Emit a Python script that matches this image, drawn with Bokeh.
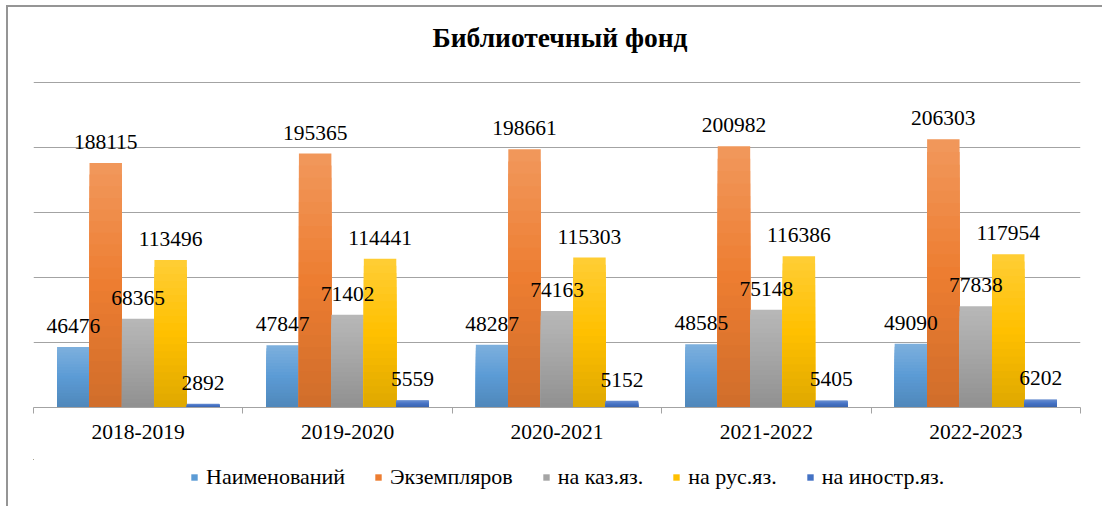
from bokeh.plotting import figure
from bokeh.layouts import column
from bokeh.models import Range1d, LinearAxis, FixedTicker, Grid, Legend, LegendItem, Label
from bokeh.embed import file_html
from bokeh.resources import INLINE
from bokeh.core.properties import value

# ---- data ----
years = ["2018-2019", "2019-2020", "2020-2021", "2021-2022", "2022-2023"]
naimenovaniy = [46476, 47847, 48287, 48585, 49090]
ekzemplyarov = [188115, 195365, 198661, 200982, 206303]
na_kaz = [68365, 71402, 74163, 75148, 77838]
na_rus = [113496, 114441, 115303, 116386, 117954]
na_inostr = [2892, 5559, 5152, 5405, 6202]
series_names = ["Наименований", "Экземпляров", "на каз.яз.", "на рус.яз.", "на иностр.яз."]
y_ticks = [0, 50000, 100000, 150000, 200000, 250000]
title_text = "Библиотечный фонд"

series = [naimenovaniy, ekzemplyarov, na_kaz, na_rus, na_inostr]
colors = ["#5b9bd5", "#ed7d31", "#a5a5a5", "#ffc000", "#4472c4"]

FONT = value("Liberation Serif")
GRID = "#a3a3a3"


def hex2rgb(h):
    h = h.lstrip("#")
    return [int(h[i:i + 2], 16) for i in (0, 2, 4)]


def rgb2hex(c):
    return "#%02x%02x%02x" % tuple(max(0, min(255, int(round(v)))) for v in c)


def mix(a, b, t):
    a, b = hex2rgb(a), hex2rgb(b)
    return rgb2hex([a[i] + (b[i] - a[i]) * t for i in range(3)])


def grad(base, t):
    # t=0 top (lighter), 0.5 base, 1 bottom (darker)
    top = mix(base, "#ffffff", 0.2)
    bot = mix(base, "#000000", 0.12)
    if t < 0.5:
        return mix(top, base, t / 0.5)
    return mix(base, bot, (t - 0.5) / 0.5)


n_cat = len(years)
n_ser = len(series)
bar_w = 0.155
frame_w = 1047
frame_h = 326  # pixels, one extra so the top grid line is not clipped


def bar_x(j):
    return [i + 0.5 + (j - (n_ser - 1) / 2) * bar_w for i in range(n_cat)]


def bare(fig):
    fig.outline_line_color = None
    fig.background_fill_color = None
    fig.border_fill_color = None
    fig.xgrid.grid_line_color = None
    fig.ygrid.grid_line_color = None


# ---- title strip ----
t = figure(frame_width=frame_w, frame_height=74, output_backend="svg", toolbar_location=None,
           x_range=Range1d(0, n_cat), y_range=Range1d(0, 74),
           x_axis_location=None, y_axis_location=None,
           min_border_left=25, min_border_right=22, min_border_top=0, min_border_bottom=0)
bare(t)
t.add_layout(Label(x=n_cat / 2, y=44, x_offset=3, text=title_text,
                   text_align="center", text_baseline="middle",
                   text_font="Liberation Serif", text_font_style="bold",
                   text_font_size="27.5px", text_color="#000000"))

# ---- main chart ----
p = figure(frame_width=frame_w, frame_height=frame_h, output_backend="svg", toolbar_location=None,
           x_range=Range1d(0, n_cat),
           y_range=Range1d(y_ticks[0], y_ticks[-1] * frame_h / (frame_h - 1)),
           x_axis_location=None, y_axis_location=None,
           min_border_left=25, min_border_right=22, min_border_top=0, min_border_bottom=52)
bare(p)

p.add_layout(Grid(dimension=1, ticker=FixedTicker(ticks=y_ticks),
                  grid_line_color=GRID, grid_line_width=1))

N = 21
for j, vals in enumerate(series):
    xs = bar_x(j)
    for k in range(N):
        f = 1 - k / N
        tops = [v * f for v in vals]
        p.vbar(x=xs, top=tops, bottom=0, width=bar_w,
               fill_color=grad(colors[j], k / (N - 1)), line_color=None)

for j, vals in enumerate(series):
    p.text(x=bar_x(j), y=vals, text=[str(v) for v in vals], text_align="center",
           text_baseline="middle", y_offset=-21, text_font=FONT,
           text_font_size="21.5px", text_color="#000000")

xaxis = LinearAxis(ticker=FixedTicker(ticks=[i + 0.5 for i in range(n_cat)],
                                      minor_ticks=list(range(n_cat + 1))),
                   major_label_overrides={i + 0.5: years[i] for i in range(n_cat)})
xaxis.axis_line_color = GRID
xaxis.major_tick_line_color = None
xaxis.major_tick_out = 0
xaxis.major_tick_in = 0
xaxis.minor_tick_line_color = GRID
xaxis.minor_tick_out = 6
xaxis.minor_tick_in = 0
xaxis.major_label_standoff = 11
xaxis.major_label_text_font = "Liberation Serif"
xaxis.major_label_text_font_size = "21.5px"
xaxis.major_label_text_color = "#000000"
p.add_layout(xaxis, "below")

# ---- legend strip (zero-width swatch renderers, outside its visible ranges) ----
q = figure(frame_width=frame_w, frame_height=47, output_backend="svg", toolbar_location=None,
           x_range=Range1d(n_cat + 10, n_cat + 11), y_range=Range1d(-2, -1),
           x_axis_location=None, y_axis_location=None,
           min_border_left=25, min_border_right=22, min_border_top=0, min_border_bottom=0)
bare(q)

legend_items = []
for j, vals in enumerate(series):
    r = q.vbar(x=bar_x(j), top=vals, bottom=0, width=0,
               fill_color=colors[j], line_color=None)
    legend_items.append(LegendItem(label=series_names[j], renderers=[r]))

legend = Legend(items=legend_items, orientation="horizontal", location=(157, 16),
                glyph_width=8, glyph_height=8, label_standoff=8, spacing=29,
                padding=0, margin=0, border_line_color=None, background_fill_alpha=0,
                label_text_font="Liberation Serif", label_text_font_size="22px",
                label_text_color="#000000")
q.add_layout(legend, "center")

layout = column(t, p, q, spacing=0)
layout.styles = {"border-top": "2px solid #959595", "border-left": "2px solid #959595",
                 "margin-left": "6px", "margin-top": "5px"}

open("out.html", "w").write(file_html(layout, INLINE))
